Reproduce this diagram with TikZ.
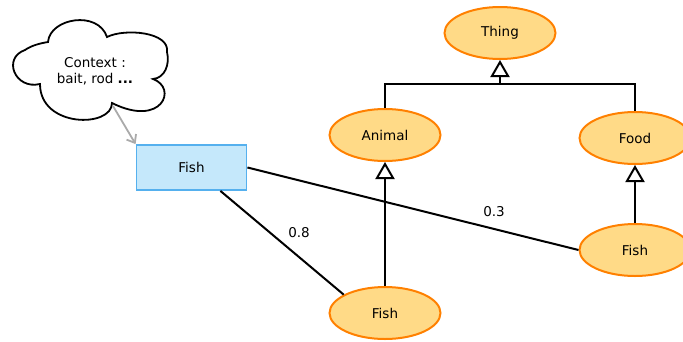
\documentclass[tikz,border=0pt]{standalone}
\usepackage{fontspec}
\setmainfont{DejaVu Sans}
\usetikzlibrary{shapes.geometric,arrows.meta}
\definecolor{ellfill}{HTML}{FFDA87}
\definecolor{ellline}{HTML}{FF8000}
\definecolor{recfill}{HTML}{C5E8FB}
\definecolor{recline}{HTML}{55B0EE}
\definecolor{ctxarrow}{HTML}{AAAAAA}
\begin{document}
\begin{tikzpicture}[x=1pt,y=-1pt,
  font=\fontsize{13.5}{16}\selectfont,
  concept/.style={ellipse, draw=ellline, fill=ellfill, line width=2pt,
    minimum width=111, minimum height=52, inner sep=0pt},
  instance/.style={rectangle, draw=recline, fill=recfill, line width=1.8pt,
    minimum width=110, minimum height=45, inner sep=0pt},
  link/.style={line width=2pt, black},
  inh/.style={line width=2pt, black, -{Triangle[open, length=17, width=19, line width=2pt]}},
  lbl/.style={inner sep=1pt}
]
\useasboundingbox (0,0) rectangle (683,341);
\clip (0,0) rectangle (683,341);

% cloud
\draw[line width=1.8pt, fill=white]
  (48,42) .. controls (50,18) and (98,10) .. (107,37)
  .. controls (125,28) and (170,32) .. (167,52)
  .. controls (170,64) and (165,78) .. (153,79)
  .. controls (178,88) and (162,128) .. (112,103)
  .. controls (112,128) and (40,128) .. (40,84)
  .. controls (15,90) and (2,58) .. (25,50)
  .. controls (32,45) and (42,43) .. (48,42) -- cycle;
\coordinate (cstart) at (113,106);
\node[lbl, align=center] (ctx) at (95,71) {Context :\\[0pt]bait, rod \textbf{...}};

% nodes
\node[concept] (thing)  at (500,33) {Thing};
\node[concept] (animal) at (385,135) {Animal};
\node[concept] (food)   at (635,138) {Food};
\node[concept] (fishR)  at (635,250) {Fish};
\node[concept] (fishB)  at (385,313) {Fish};
\node[instance] (fishI) at (191.5,167.5) {Fish};

% inheritance
\coordinate (hub) at (500,84);
\draw[link] (animal.north) |- (hub) -| (food.north);
\draw[inh] (hub) -- (thing.south);
\draw[inh] (fishB.north) -- (animal.south);
\draw[inh] (fishR.north) -- (food.south);

% context arrow
\draw[ctxarrow, line width=1.8pt, -{Straight Barb[length=7, width=11, line width=1.8pt]}] (cstart) -- (fishI.north west);

% similarity links
\draw[link] (fishI.east) -- (fishR.west);
\draw[link] (fishI.-39.5) -- (fishB.156);
\node[lbl] (l03) at (494,212) {0.3};
\node[lbl] (l08) at (299,233) {0.8};
\end{tikzpicture}
\end{document}
